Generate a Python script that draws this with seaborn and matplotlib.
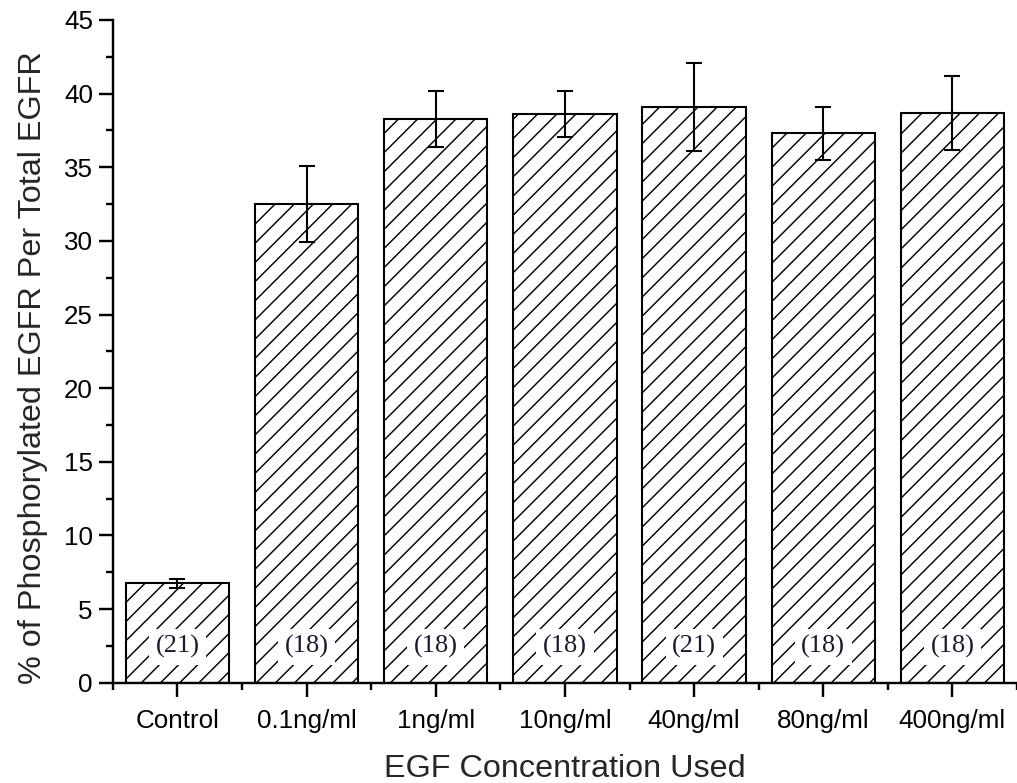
import matplotlib
matplotlib.use("Agg")
import matplotlib.pyplot as plt
from matplotlib.ticker import MultipleLocator, FixedLocator
import numpy as np
import pandas as pd
import seaborn as sns

# EGF dose-response: phospho-EGFR as % of total EGFR
concentrations = ["Control", "0.1ng/ml", "1ng/ml", "10ng/ml", "40ng/ml", "80ng/ml", "400ng/ml"]
mean_pct = [6.75, 32.5, 38.3, 38.6, 39.1, 37.3, 38.7]
sem_pct = [0.32, 2.6, 1.9, 1.55, 2.97, 1.78, 2.5]
n_cells = [21, 18, 18, 18, 21, 18, 18]

df = pd.DataFrame({"conc": concentrations, "pct": mean_pct, "err": sem_pct, "n": n_cells})

sns.set_theme(style="ticks")
plt.rcParams["font.family"] = ["Liberation Sans", "DejaVu Sans"]
plt.rcParams["hatch.linewidth"] = 0.9
plt.rcParams["hatch.color"] = "#222222"

DPI = 115
fig = plt.figure(figsize=(1017 / DPI, 783 / DPI), dpi=DPI)
ax = fig.add_axes([0.111, 0.128, 0.889, 0.8465])

sns.barplot(data=df, x="conc", y="pct", order=concentrations, color="white",
            edgecolor="black", linewidth=1.3, width=0.8, errorbar=None, ax=ax)

centers = []
for p in ax.patches:
    p.set_hatch("//")
    p.set_facecolor("white")
    centers.append(p.get_x() + p.get_width() / 2)

ax.errorbar(centers, df["pct"], yerr=df["err"], fmt="none", ecolor="black",
            elinewidth=1.3, capsize=4.8, capthick=1.3, zorder=5)

for x, n in zip(centers, df["n"]):
    ax.text(x, 2.45, f"({n})", ha="center", va="center", fontsize=16.5,
            family=["Liberation Serif", "DejaVu Serif"], color="#1a1a2e", zorder=6,
            bbox=dict(boxstyle="square,pad=0.25", facecolor="white", edgecolor="none"))

ax.set_xlim(-0.5, len(concentrations) - 0.5)
ax.set_ylim(0, 45)
ax.yaxis.set_major_locator(MultipleLocator(5))
ax.yaxis.set_minor_locator(MultipleLocator(2.5))
ax.xaxis.set_minor_locator(FixedLocator(np.arange(-0.5, len(concentrations), 1.0)))

for side in ["top", "right"]:
    ax.spines[side].set_visible(False)
for side in ["left", "bottom"]:
    ax.spines[side].set_linewidth(1.5)
    ax.spines[side].set_color("black")

ax.tick_params(axis="both", which="major", direction="out", length=8.5, width=1.5,
               labelsize=16.3, colors="black", pad=4)
ax.tick_params(axis="both", which="minor", direction="out", length=4.5, width=1.5, colors="black")
ax.tick_params(axis="x", which="major", pad=8)

ax.set_xlabel("EGF Concentration Used", fontsize=20.3, labelpad=13)
ax.set_ylabel("% of Phosphorylated EGFR Per Total EGFR", fontsize=20.3, labelpad=10)
ax.yaxis.label.set_y(0.475)

fig.savefig("out.png", dpi=DPI)
